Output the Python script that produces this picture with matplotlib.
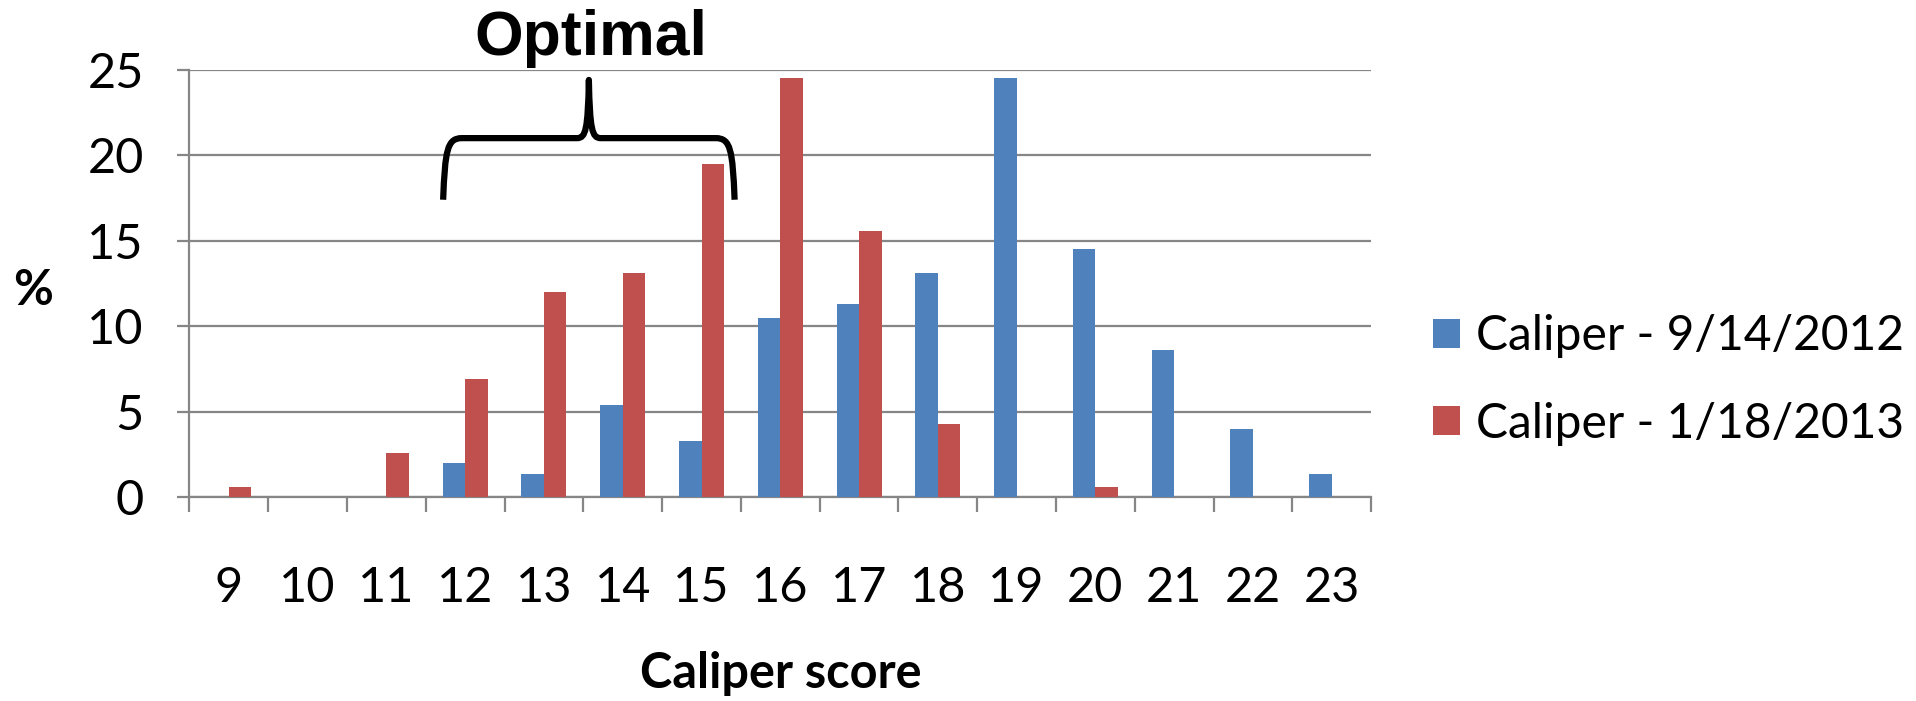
import matplotlib
matplotlib.use("Agg")
import matplotlib.pyplot as plt
from matplotlib.path import Path
from matplotlib.patches import PathPatch
import numpy as np

categories = ["9", "10", "11", "12", "13", "14", "15", "16", "17", "18", "19", "20", "21", "22", "23"]
series_2012 = [0, 0, 0, 2.0, 1.4, 5.4, 3.3, 10.5, 11.3, 13.1, 24.5, 14.5, 8.6, 4.0, 1.4]
series_2013 = [0.6, 0, 2.6, 6.9, 12.0, 13.1, 19.5, 24.5, 15.6, 4.3, 0, 0.6, 0, 0, 0]
label_2012 = "Caliper - 9/14/2012"
label_2013 = "Caliper - 1/18/2013"
y_ticks = [0, 5, 10, 15, 20, 25]
brace_from, brace_to = "12", "15"
brace_text = "Optimal"

BLUE = "#4F81BD"
RED = "#C0504D"
GRAY = "#868686"
FONT = "Lato"

fig = plt.figure(figsize=(19.16, 7.01), dpi=100)
ax = fig.add_axes([0.0989, 0.2903, 0.6167, 0.6103])

x = np.arange(len(categories))
w = 1 / 3.5
b1 = ax.bar(x - w / 2, series_2012, w, color=BLUE, label=label_2012, zorder=3)
b2 = ax.bar(x + w / 2, series_2013, w, color=RED, label=label_2013, zorder=3)

ax.set_xlim(-0.5, len(categories) - 0.5)
ax.set_ylim(0, 25)
ax.set_yticks(y_ticks)
ax.set_yticklabels([str(v) for v in y_ticks], fontsize=35, family=FONT)
ax.yaxis.grid(True, color=GRAY, lw=1.6, zorder=0)
ax.set_axisbelow(True)

ax.set_xticks(x)
ax.set_xticklabels(categories, fontsize=35, family=FONT)
ax.set_xticks(np.arange(len(categories) + 1) - 0.5, minor=True)
ax.tick_params(axis="x", which="major", length=0, pad=49)
ax.tick_params(axis="x", which="minor", length=11, width=1.6, color=GRAY)
ax.tick_params(axis="y", length=9, width=1.6, color=GRAY, pad=24)

for s in ["top", "right"]:
    ax.spines[s].set_visible(False)
for s in ["left", "bottom"]:
    ax.spines[s].set_color(GRAY)
    ax.spines[s].set_linewidth(1.6)

ax.set_xlabel("Caliper score", fontsize=35, fontweight="bold", family=FONT, labelpad=30)
ax.set_ylabel("%", fontsize=35, fontweight="bold", family=FONT, rotation=0,
              va="center", ha="center", labelpad=0)
ax.yaxis.set_label_coords(-0.132, 0.483)

# brace above the optimal range
i0 = categories.index(brace_from)
i1 = categories.index(brace_to)
xl = i0 - 0.28
xr = i1 + 0.42
xc = (xl + xr) / 2
yb, yh, yp = 17.4, 21.0, 24.4
verts = [
    (xl, yb),
    (xl + 0.025, 20.3), (xl + 0.05, yh), (xl + 0.24, yh),
    (xc - 0.15, yh),
    (xc - 0.04, yh), (xc - 0.013, yh + 0.5), (xc, yp),
    (xc + 0.013, yh + 0.5), (xc + 0.04, yh), (xc + 0.15, yh),
    (xr - 0.24, yh),
    (xr - 0.05, yh), (xr - 0.025, 20.3), (xr, yb),
]
codes = [Path.MOVETO,
         Path.CURVE4, Path.CURVE4, Path.CURVE4,
         Path.LINETO,
         Path.CURVE4, Path.CURVE4, Path.CURVE4,
         Path.CURVE4, Path.CURVE4, Path.CURVE4,
         Path.LINETO,
         Path.CURVE4, Path.CURVE4, Path.CURVE4]
ax.add_patch(PathPatch(Path(verts, codes), fill=False, lw=4.5, color="black",
                       capstyle="butt", joinstyle="round", clip_on=False, zorder=5))
ax.text(xc + 0.02, 26.85, brace_text, fontsize=45, fontweight="bold", family="Liberation Sans",
        ha="center", va="center", clip_on=False)

leg = fig.legend(handles=[b1, b2], loc="center left", bbox_to_anchor=(0.748, 0.458),
                 frameon=False, prop={"family": FONT, "size": 34.5},
                 handlelength=0.56, handleheight=0.56, handletextpad=0.33,
                 labelspacing=0.9, borderpad=0, borderaxespad=0)

fig.savefig("out.png", dpi=100)
